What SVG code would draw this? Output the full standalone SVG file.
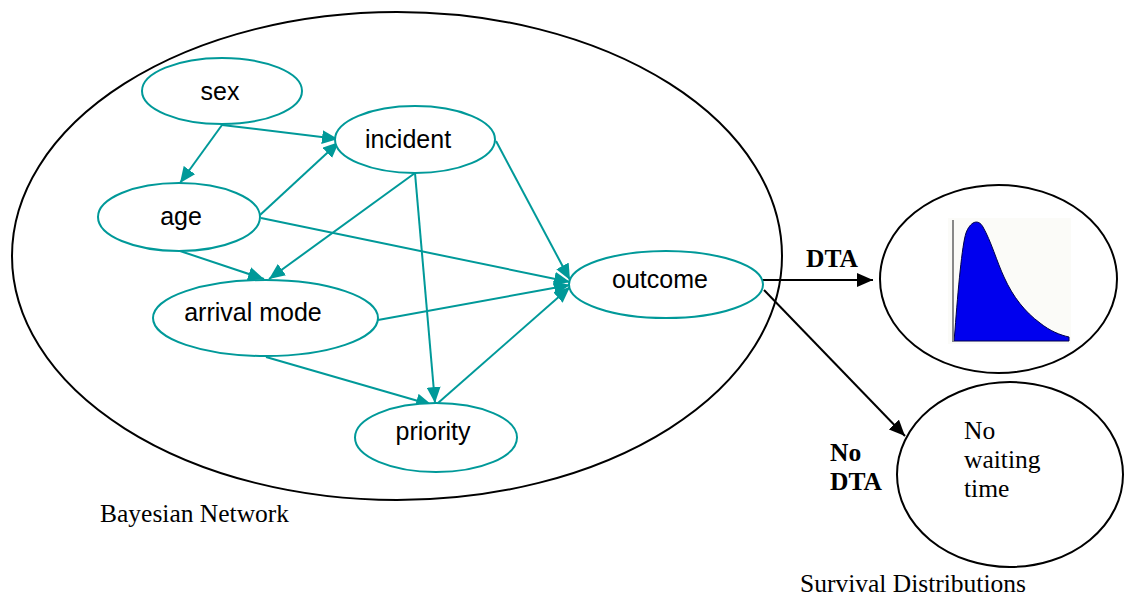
<svg xmlns="http://www.w3.org/2000/svg" width="1125" height="597" viewBox="0 0 1125 597">
<style>
.node{fill:#ffffff;stroke:#009999;stroke-width:2}
.lbl{font-family:"Liberation Sans",Arial,sans-serif;font-size:25px;fill:#000;text-anchor:middle}
.serif{font-family:"Liberation Serif","Times New Roman",serif;font-size:25.5px;fill:#000}
.bold{font-weight:bold}
.edge{stroke:#009999;stroke-width:2;fill:none;marker-end:url(#ta)}
.bedge{stroke:#000;stroke-width:2;fill:none;marker-end:url(#ba)}
.outline{fill:none;stroke:#000;stroke-width:2}
</style>
<defs>
<marker id="ta" viewBox="0 0 16 14" refX="16" refY="7" markerWidth="16" markerHeight="14" markerUnits="userSpaceOnUse" orient="auto">
<path d="M0,0 L16,7 L0,14 Z" fill="#009999"/>
</marker>
<marker id="ba" viewBox="0 0 16 14" refX="16" refY="7" markerWidth="16" markerHeight="14" markerUnits="userSpaceOnUse" orient="auto">
<path d="M0,0 L16,7 L0,14 Z" fill="#000"/>
</marker>
</defs>

<g id="bayesian-network">
<ellipse class="outline" cx="397" cy="256" rx="385" ry="244"/>
<text class="serif" x="100" y="522">Bayesian Network</text>
</g>

<g id="connectors">
<line class="edge" x1="222" y1="125" x2="180" y2="183"/>
<line class="edge" x1="222" y1="125" x2="338" y2="139"/>
<line class="edge" x1="260" y1="215" x2="339" y2="142"/>
<line class="edge" x1="261" y1="218" x2="570" y2="282"/>
<line class="edge" x1="180" y1="251" x2="264" y2="279"/>
<line class="edge" x1="415" y1="173" x2="269" y2="279"/>
<line class="edge" x1="415" y1="173" x2="435" y2="403"/>
<line class="edge" x1="496" y1="141" x2="570" y2="280"/>
<line class="edge" x1="378" y1="320" x2="570" y2="285"/>
<line class="edge" x1="266" y1="357" x2="432" y2="405"/>
<line class="edge" x1="438" y1="403" x2="570" y2="287"/>
<line class="bedge" x1="757" y1="280" x2="873" y2="280"/>
<line class="bedge" x1="764" y1="290" x2="905" y2="436"/>
<text class="serif bold" x="806" y="267">DTA</text>
<text class="serif bold" x="830" y="461">No</text>
<text class="serif bold" x="830" y="490">DTA</text>
</g>

<g id="sex">
<ellipse class="node" cx="222" cy="91" rx="80" ry="33"/>
<text class="lbl" x="220" y="100">sex</text>
</g>
<g id="incident">
<ellipse class="node" cx="415" cy="139.5" rx="80" ry="33.5"/>
<text class="lbl" x="408" y="148">incident</text>
</g>
<g id="age">
<ellipse class="node" cx="179" cy="217" rx="81" ry="34"/>
<text class="lbl" x="181" y="225">age</text>
</g>
<g id="arrival-mode">
<ellipse class="node" cx="265.5" cy="318" rx="112.5" ry="38"/>
<text class="lbl" x="253" y="321">arrival mode</text>
</g>
<g id="outcome">
<ellipse class="node" cx="666" cy="284.5" rx="97" ry="33.5"/>
<text class="lbl" x="660" y="288">outcome</text>
</g>
<g id="priority">
<ellipse class="node" cx="436" cy="437.5" rx="81" ry="34.5"/>
<text class="lbl" x="433" y="440">priority</text>
</g>

<g id="dta-distribution">
<ellipse class="outline" cx="998.5" cy="279" rx="118.5" ry="94"/>
<rect x="948" y="218" width="123" height="126" fill="#fbfbf8"/>
<path d="M954,341 L955,330 C958,290 962,245 966,233 C970,222 978,218 983,227 C991,241 997,262 1004,277 C1013,297 1025,312 1040,323 C1050,331 1060,335 1069,337 L1069,341 Z" fill="#0000ee" stroke="#00004a" stroke-width="1"/>
<line x1="953" y1="220" x2="953" y2="342" stroke="#888888" stroke-width="2"/>
</g>

<g id="no-dta">
<ellipse class="outline" cx="1010" cy="474.5" rx="113" ry="92.5"/>
<text class="serif" x="964" y="439">No</text>
<text class="serif" x="964" y="468">waiting</text>
<text class="serif" x="964" y="497">time</text>
</g>

<text class="serif" x="800" y="592">Survival Distributions</text>
</svg>
